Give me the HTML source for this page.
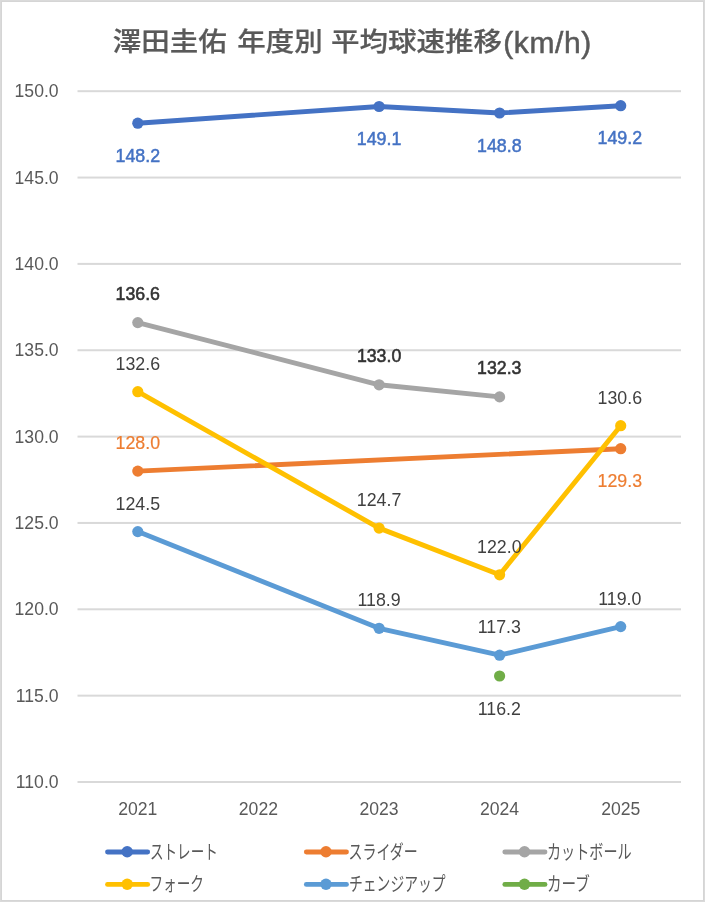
<!DOCTYPE html>
<html><head><meta charset="utf-8">
<style>
html,body{margin:0;padding:0;background:#fff;}
body{width:705px;height:903px;position:relative;overflow:hidden;}
#frame{position:absolute;left:0;top:0;width:705px;height:902px;box-sizing:border-box;border:1px solid #dadada;box-shadow:inset 0 0 0 1px #d5d5d5;}
svg{position:absolute;left:0;top:0;will-change:transform;}
.sb{stroke-width:0.55px;}
.ax{font-family:"Liberation Sans",sans-serif;font-size:17.6px;fill:#595959;}
.lb{font-family:"Liberation Sans",sans-serif;font-size:17.8px;}
.lg{font-family:"Liberation Sans","Noto Sans CJK JP",sans-serif;font-size:19.5px;fill:#595959;}
.tt{font-family:"Liberation Sans","Noto Sans CJK JP",sans-serif;font-size:28.5px;font-weight:500;fill:#595959;stroke:#595959;stroke-width:0.25px;}
.tl{font-family:"Liberation Sans",sans-serif;font-size:30px;font-weight:normal;stroke-width:0.5px;}
</style></head><body>
<div id="frame"></div>
<svg width="705" height="903" viewBox="0 0 705 903">
<g transform="matrix(1,0,0,0.93,0,2.49)"><text y="52.5" class="tt"><tspan x="112.8">澤田圭佑</tspan><tspan x="237.2">年度別</tspan><tspan x="331.0">平均球速推移</tspan></text></g><text y="52.5" class="tt tl" letter-spacing="0.6" x="503.2">(km/h)</text>
<rect x="77.5" y="90.20" width="603.5" height="2" fill="#d9d9d9"/>
<text x="58.6" y="97.20" text-anchor="end" class="ax">150.0</text>
<rect x="77.5" y="176.55" width="603.5" height="2" fill="#d9d9d9"/>
<text x="58.6" y="183.55" text-anchor="end" class="ax">145.0</text>
<rect x="77.5" y="262.90" width="603.5" height="2" fill="#d9d9d9"/>
<text x="58.6" y="269.90" text-anchor="end" class="ax">140.0</text>
<rect x="77.5" y="349.25" width="603.5" height="2" fill="#d9d9d9"/>
<text x="58.6" y="356.25" text-anchor="end" class="ax">135.0</text>
<rect x="77.5" y="435.60" width="603.5" height="2" fill="#d9d9d9"/>
<text x="58.6" y="442.60" text-anchor="end" class="ax">130.0</text>
<rect x="77.5" y="521.95" width="603.5" height="2" fill="#d9d9d9"/>
<text x="58.6" y="528.95" text-anchor="end" class="ax">125.0</text>
<rect x="77.5" y="608.30" width="603.5" height="2" fill="#d9d9d9"/>
<text x="58.6" y="615.30" text-anchor="end" class="ax">120.0</text>
<rect x="77.5" y="694.65" width="603.5" height="2" fill="#d9d9d9"/>
<text x="58.6" y="701.65" text-anchor="end" class="ax">115.0</text>
<rect x="77.5" y="781.00" width="603.5" height="2" fill="#d9d9d9"/>
<text x="58.6" y="788.00" text-anchor="end" class="ax">110.0</text>
<text x="137.8" y="814.8" text-anchor="middle" class="ax">2021</text>
<text x="258.4" y="814.8" text-anchor="middle" class="ax">2022</text>
<text x="379.1" y="814.8" text-anchor="middle" class="ax">2023</text>
<text x="499.6" y="814.8" text-anchor="middle" class="ax">2024</text>
<text x="620.7" y="814.8" text-anchor="middle" class="ax">2025</text>
<polyline points="137.8,123.2 379.1,106.5 499.6,113.0 620.7,105.7" fill="none" stroke="#4472C4" stroke-width="4.9" stroke-linejoin="round" stroke-linecap="round"/>
<circle cx="137.8" cy="123.2" r="5.6" fill="#4472C4"/>
<circle cx="379.1" cy="106.5" r="5.6" fill="#4472C4"/>
<circle cx="499.6" cy="113.0" r="5.6" fill="#4472C4"/>
<circle cx="620.7" cy="105.7" r="5.6" fill="#4472C4"/>
<polyline points="137.8,471.1 620.7,448.7" fill="none" stroke="#ED7D31" stroke-width="4.9" stroke-linejoin="round" stroke-linecap="round"/>
<circle cx="137.8" cy="471.1" r="5.6" fill="#ED7D31"/>
<circle cx="620.7" cy="448.7" r="5.6" fill="#ED7D31"/>
<polyline points="137.8,322.6 379.1,384.8 499.6,396.9" fill="none" stroke="#A5A5A5" stroke-width="4.9" stroke-linejoin="round" stroke-linecap="round"/>
<circle cx="137.8" cy="322.6" r="5.6" fill="#A5A5A5"/>
<circle cx="379.1" cy="384.8" r="5.6" fill="#A5A5A5"/>
<circle cx="499.6" cy="396.9" r="5.6" fill="#A5A5A5"/>
<polyline points="137.8,391.7 379.1,528.1 499.6,574.8 620.7,425.7" fill="none" stroke="#FFC000" stroke-width="4.9" stroke-linejoin="round" stroke-linecap="round"/>
<circle cx="137.8" cy="391.7" r="5.6" fill="#FFC000"/>
<circle cx="379.1" cy="528.1" r="5.6" fill="#FFC000"/>
<circle cx="499.6" cy="574.8" r="5.6" fill="#FFC000"/>
<circle cx="620.7" cy="425.7" r="5.6" fill="#FFC000"/>
<polyline points="137.8,531.6 379.1,628.3 499.6,655.2 620.7,626.6" fill="none" stroke="#5B9BD5" stroke-width="4.9" stroke-linejoin="round" stroke-linecap="round"/>
<circle cx="137.8" cy="531.6" r="5.6" fill="#5B9BD5"/>
<circle cx="379.1" cy="628.3" r="5.6" fill="#5B9BD5"/>
<circle cx="499.6" cy="655.2" r="5.6" fill="#5B9BD5"/>
<circle cx="620.7" cy="626.6" r="5.6" fill="#5B9BD5"/>
<circle cx="499.6" cy="676.0" r="5.6" fill="#70AD47"/>
<text x="137.8" y="161.7" text-anchor="middle" class="lb" fill="#4472C4" stroke="#4472C4" stroke-width="0.5">148.2</text>
<text x="379.1" y="145.0" text-anchor="middle" class="lb" fill="#4472C4" stroke="#4472C4" stroke-width="0.5">149.1</text>
<text x="499.3" y="151.5" text-anchor="middle" class="lb" fill="#4472C4" stroke="#4472C4" stroke-width="0.5">148.8</text>
<text x="619.8" y="144.2" text-anchor="middle" class="lb" fill="#4472C4" stroke="#4472C4" stroke-width="0.5">149.2</text>
<text x="137.8" y="449.1" text-anchor="middle" class="lb" fill="#ED7D31" stroke="#ED7D31" stroke-width="0.2">128.0</text>
<text x="619.8" y="487.2" text-anchor="middle" class="lb" fill="#ED7D31" stroke="#ED7D31" stroke-width="0.2">129.3</text>
<text x="115.6" y="299.8" class="lb sb" fill="#333333" stroke="#333333" textLength="44.4" lengthAdjust="spacingAndGlyphs">136.6</text>
<text x="356.9" y="362.0" class="lb sb" fill="#333333" stroke="#333333" textLength="44.4" lengthAdjust="spacingAndGlyphs">133.0</text>
<text x="477.1" y="374.1" class="lb sb" fill="#333333" stroke="#333333" textLength="44.4" lengthAdjust="spacingAndGlyphs">132.3</text>
<text x="137.8" y="369.7" text-anchor="middle" class="lb" fill="#404040">132.6</text>
<text x="379.1" y="506.1" text-anchor="middle" class="lb" fill="#404040">124.7</text>
<text x="499.3" y="552.8" text-anchor="middle" class="lb" fill="#404040">122.0</text>
<text x="619.8" y="403.7" text-anchor="middle" class="lb" fill="#404040">130.6</text>
<text x="137.8" y="509.6" text-anchor="middle" class="lb" fill="#404040">124.5</text>
<text x="379.1" y="606.3" text-anchor="middle" class="lb" fill="#404040">118.9</text>
<text x="499.3" y="633.2" text-anchor="middle" class="lb" fill="#404040">117.3</text>
<text x="619.8" y="604.6" text-anchor="middle" class="lb" fill="#404040">119.0</text>
<text x="499.3" y="714.5" text-anchor="middle" class="lb" fill="#404040">116.2</text>
<line x1="107.5" x2="147.7" y1="852.0" y2="852.0" stroke="#4472C4" stroke-width="4.8" stroke-linecap="round"/>
<circle cx="127.2" cy="851.8" r="5.7" fill="#4472C4"/>
<text x="150.0" y="859.0" class="lg" textLength="67.82" lengthAdjust="spacingAndGlyphs">ストレート</text>
<line x1="306.3" x2="346.5" y1="852.0" y2="852.0" stroke="#ED7D31" stroke-width="4.8" stroke-linecap="round"/>
<circle cx="326.0" cy="851.8" r="5.7" fill="#ED7D31"/>
<text x="348.5" y="859.0" class="lg" textLength="69.29" lengthAdjust="spacingAndGlyphs">スライダー</text>
<line x1="504.8" x2="545.0" y1="852.0" y2="852.0" stroke="#A5A5A5" stroke-width="4.8" stroke-linecap="round"/>
<circle cx="524.5" cy="851.8" r="5.7" fill="#A5A5A5"/>
<text x="547.0" y="859.0" class="lg" textLength="84.68" lengthAdjust="spacingAndGlyphs">カットボール</text>
<line x1="107.5" x2="147.7" y1="884.4" y2="884.4" stroke="#FFC000" stroke-width="4.8" stroke-linecap="round"/>
<circle cx="127.2" cy="884.2" r="5.7" fill="#FFC000"/>
<text x="149.5" y="891.4" class="lg" textLength="54.47" lengthAdjust="spacingAndGlyphs">フォーク</text>
<line x1="306.3" x2="346.5" y1="884.4" y2="884.4" stroke="#5B9BD5" stroke-width="4.8" stroke-linecap="round"/>
<circle cx="326.0" cy="884.2" r="5.7" fill="#5B9BD5"/>
<text x="349.0" y="891.4" class="lg" textLength="96.58" lengthAdjust="spacingAndGlyphs">チェンジアップ</text>
<line x1="504.8" x2="545.0" y1="884.4" y2="884.4" stroke="#70AD47" stroke-width="4.8" stroke-linecap="round"/>
<circle cx="524.5" cy="884.2" r="5.7" fill="#70AD47"/>
<text x="547.0" y="891.4" class="lg" textLength="42.84" lengthAdjust="spacingAndGlyphs">カーブ</text>
</svg>
</body></html>
